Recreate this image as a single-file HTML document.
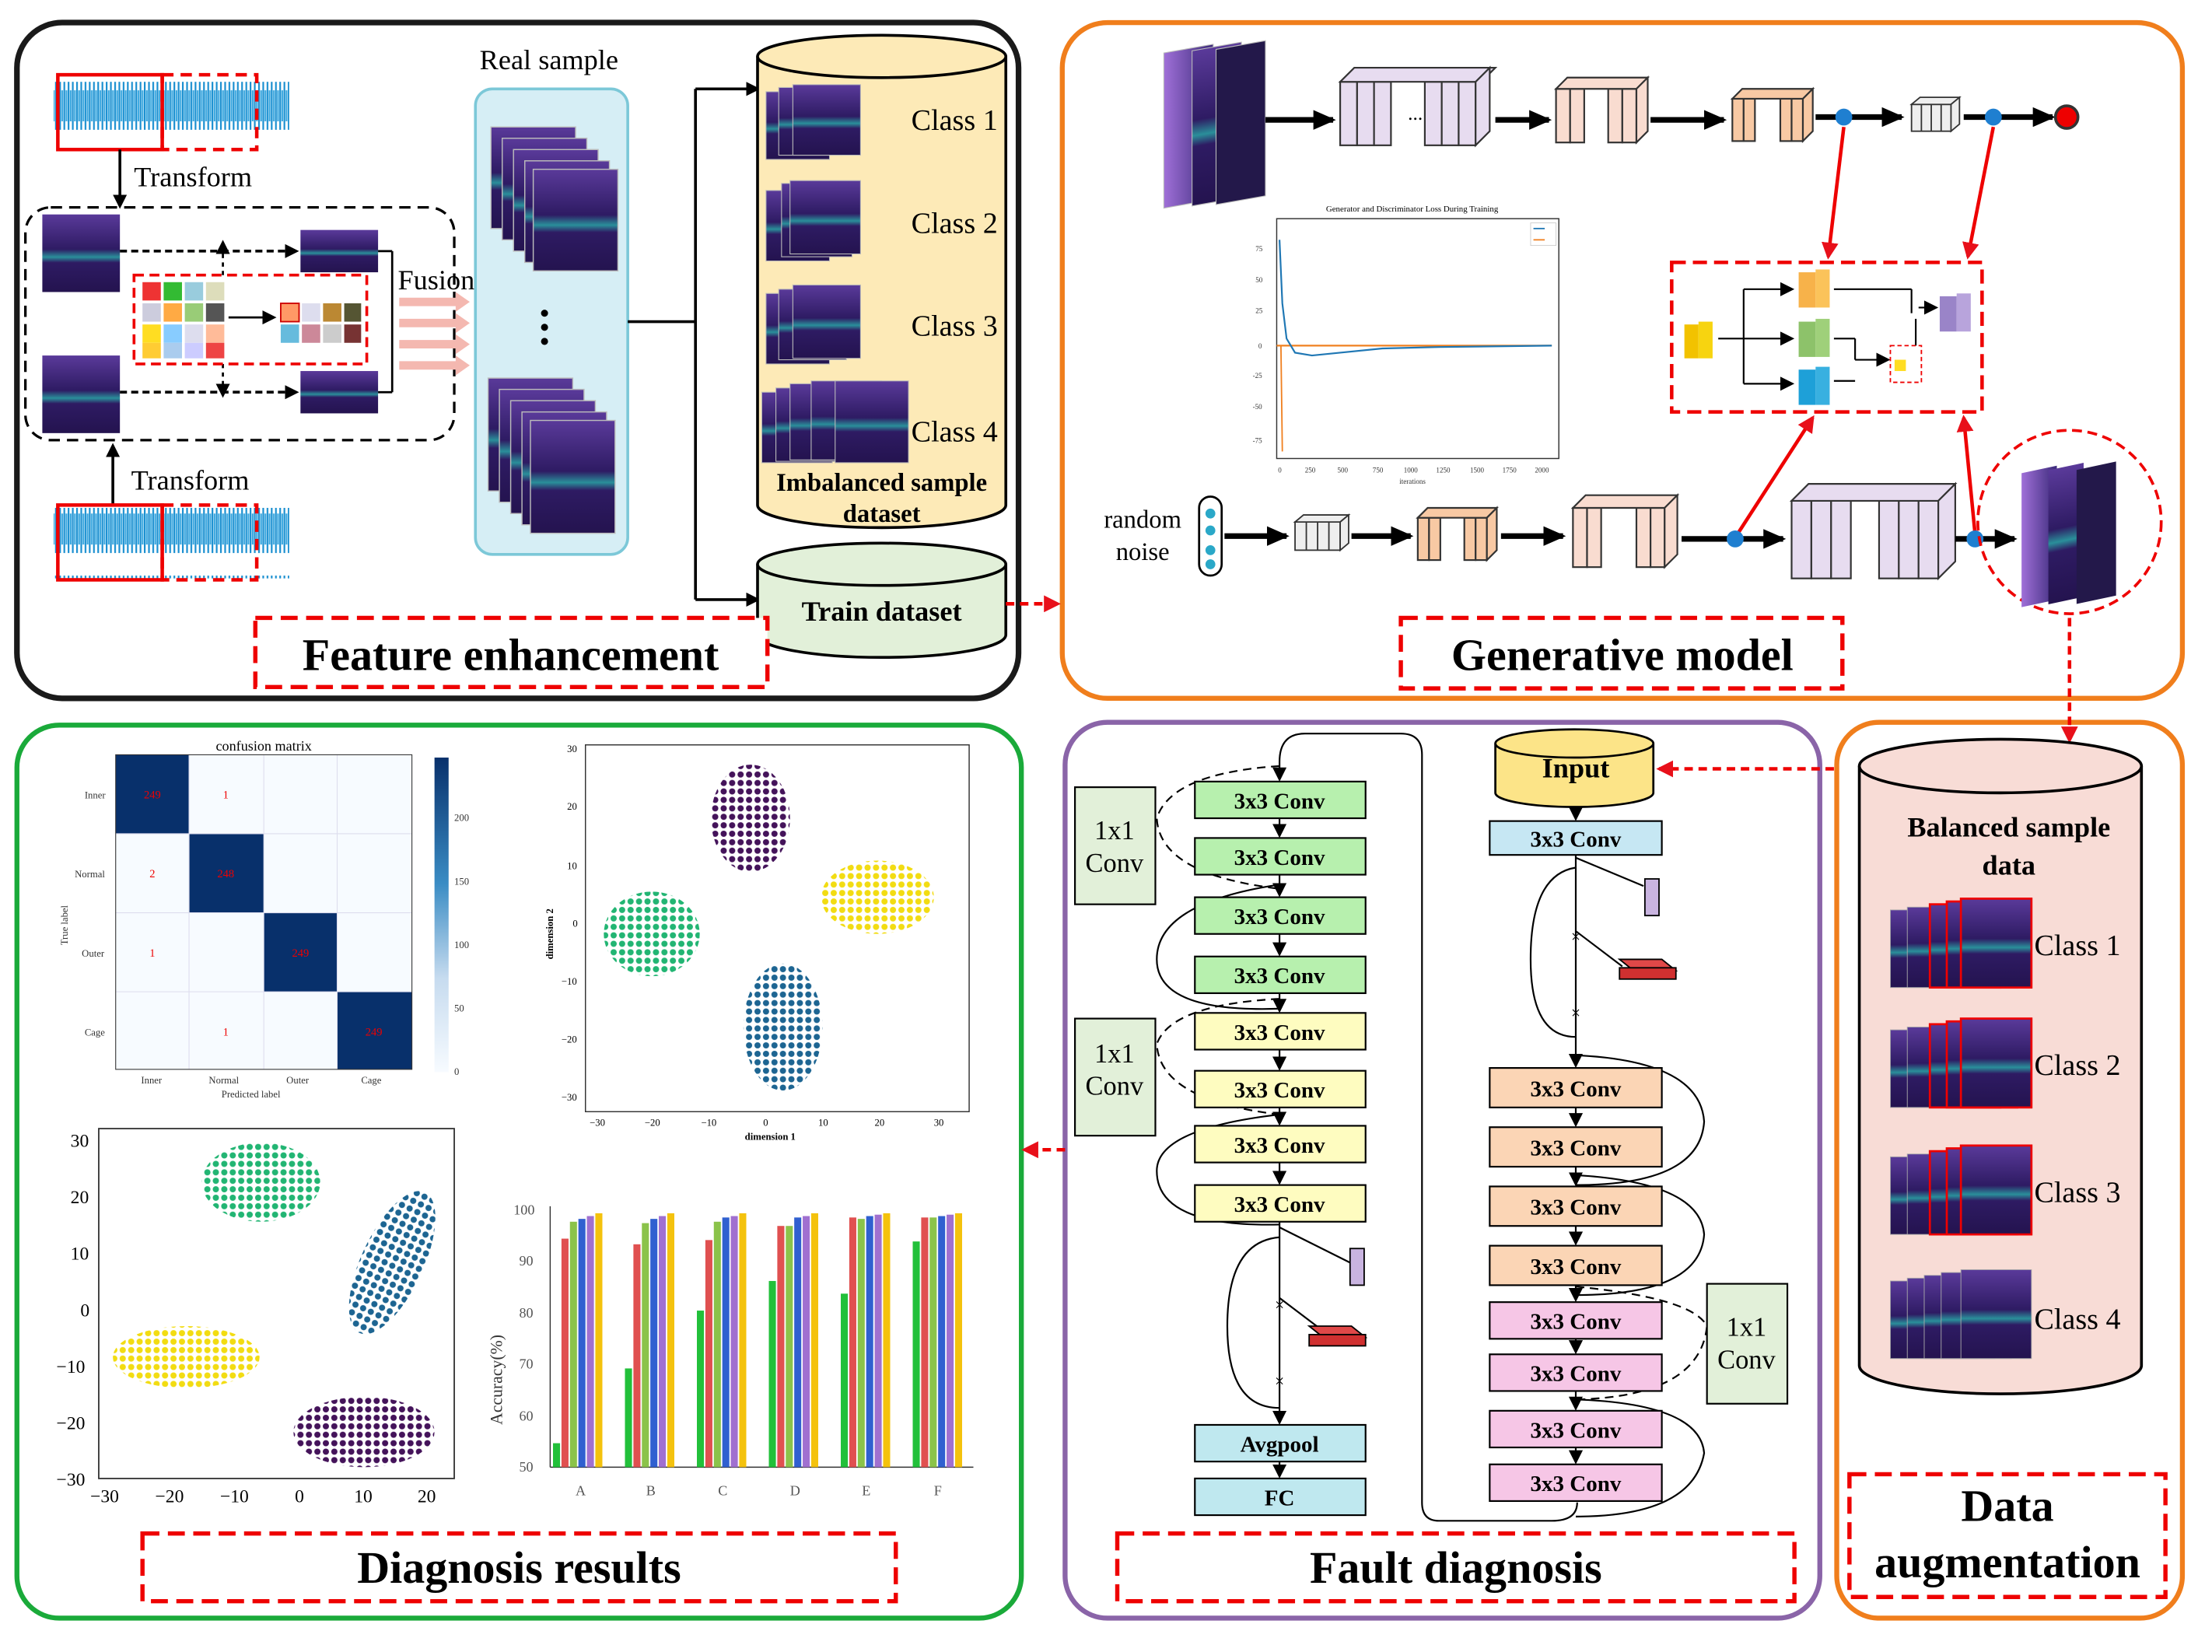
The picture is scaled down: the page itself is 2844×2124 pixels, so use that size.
<!DOCTYPE html>
<html><head><meta charset="utf-8"><style>
html,body{margin:0;padding:0;background:#fff;}
svg{display:block;}
text{font-family:"Liberation Serif",serif;}
.b{font-weight:bold;}
</style></head><body>
<svg width="2844" height="2124" viewBox="0 0 1568 1171" preserveAspectRatio="none" xmlns="http://www.w3.org/2000/svg">
<defs>
<linearGradient id="sp" x1="0" y1="0" x2="0" y2="1">
<stop offset="0" stop-color="#5a3a9a"/><stop offset="0.45" stop-color="#2e1b63"/><stop offset="0.55" stop-color="#2a8f9a"/><stop offset="0.62" stop-color="#2e1b63"/><stop offset="1" stop-color="#24134f"/></linearGradient>
<linearGradient id="sp2" x1="0" y1="0" x2="1" y2="0">
<stop offset="0" stop-color="#a070d8"/><stop offset="1" stop-color="#3b2a7a"/></linearGradient>
<pattern id="wave" width="3" height="50" patternUnits="userSpaceOnUse">
<rect width="3" height="50" fill="#fff"/><rect x="0" y="8" width="1.2" height="34" fill="#1a8fd0"/><rect x="1.5" y="14" width="1.2" height="22" fill="#3aa8e0"/></pattern>
<pattern id="pPur" width="6" height="6" patternUnits="userSpaceOnUse"><circle cx="3" cy="3" r="2.2" fill="#44135a"/></pattern>
<pattern id="pGrn" width="6" height="6" patternUnits="userSpaceOnUse"><circle cx="3" cy="3" r="2.2" fill="#22b573"/></pattern>
<pattern id="pYel" width="6" height="6" patternUnits="userSpaceOnUse"><circle cx="3" cy="3" r="2.2" fill="#f2dc12"/></pattern>
<pattern id="pBlu" width="6" height="6" patternUnits="userSpaceOnUse"><circle cx="3" cy="3" r="2.2" fill="#1d6592"/></pattern>
<marker id="ak" markerWidth="10" markerHeight="10" refX="8" refY="5" orient="auto" markerUnits="userSpaceOnUse"><path d="M0,0 L10,5 L0,10z" fill="#000"/></marker>
<marker id="ar" markerWidth="12" markerHeight="12" refX="10" refY="6" orient="auto" markerUnits="userSpaceOnUse"><path d="M0,0 L12,6 L0,12z" fill="#e8101a"/></marker>
<marker id="ak2" markerWidth="16" markerHeight="14" refX="14" refY="7" orient="auto" markerUnits="userSpaceOnUse"><path d="M0,0 L16,7 L0,14z" fill="#000"/></marker>
</defs>
<rect width="1568" height="1171" fill="#fff"/>

<rect x="12" y="16" width="710" height="479" rx="32" fill="none" stroke="#1a1a1a" stroke-width="4"/>
<rect x="753" y="16" width="794" height="479" rx="32" fill="none" stroke="#f07e1c" stroke-width="3.5"/>
<rect x="12" y="514" width="712" height="633" rx="30" fill="none" stroke="#1aaa3a" stroke-width="3.5"/>
<rect x="755" y="512" width="535" height="635" rx="30" fill="none" stroke="#8a64a8" stroke-width="3.5"/>
<rect x="1302" y="512" width="245" height="635" rx="30" fill="none" stroke="#f07e1c" stroke-width="3.5"/>

<rect x="38" y="55" width="167" height="50" fill="url(#wave)"/>
<rect x="41" y="53" width="74" height="53" fill="none" stroke="#e00" stroke-width="2.5"/>
<rect x="115" y="53" width="67" height="53" fill="none" stroke="#e00" stroke-width="2.5" stroke-dasharray="8,5"/>
<line x1="85" y1="106" x2="85" y2="146" stroke="#000" stroke-width="2" marker-end="url(#ak)"/>
<text x="95" y="132" font-size="20">Transform</text>
<rect x="18" y="147" width="304" height="165" rx="18" fill="none" stroke="#000" stroke-width="1.8" stroke-dasharray="8,5"/>
<rect x="30" y="152" width="55" height="55" fill="url(#sp)"/>
<rect x="30" y="252" width="55" height="55" fill="url(#sp)"/>
<rect x="213" y="163" width="55" height="30" fill="url(#sp)"/>
<rect x="213" y="263" width="55" height="30" fill="url(#sp)"/>
<line x1="85" y1="178" x2="210" y2="178" stroke="#000" stroke-width="2" stroke-dasharray="5,3" marker-end="url(#ak)"/>
<line x1="85" y1="278" x2="210" y2="278" stroke="#000" stroke-width="2" stroke-dasharray="5,3" marker-end="url(#ak)"/>
<line x1="158" y1="195" x2="158" y2="172" stroke="#000" stroke-width="1.5" stroke-dasharray="3,3" marker-end="url(#ak)"/>
<line x1="158" y1="258" x2="158" y2="280" stroke="#000" stroke-width="1.5" stroke-dasharray="3,3" marker-end="url(#ak)"/>
<rect x="95" y="195" width="165" height="63" fill="none" stroke="#e00" stroke-width="2" stroke-dasharray="7,4"/>
<g>
<rect x="101" y="200" width="13" height="13" fill="#e33" /><rect x="116" y="200" width="13" height="13" fill="#3b3"/><rect x="131" y="200" width="13" height="13" fill="#9cd"/><rect x="146" y="200" width="13" height="13" fill="#ddb"/>
<rect x="101" y="215" width="13" height="13" fill="#ccd"/><rect x="116" y="215" width="13" height="13" fill="#fa4"/><rect x="131" y="215" width="13" height="13" fill="#9c7"/><rect x="146" y="215" width="13" height="13" fill="#555"/>
<rect x="101" y="230" width="13" height="13" fill="#fd2"/><rect x="116" y="230" width="13" height="13" fill="#8cf"/><rect x="131" y="230" width="13" height="13" fill="#dde"/><rect x="146" y="230" width="13" height="13" fill="#fb9"/>
<rect x="101" y="243" width="13" height="11" fill="#fc3"/><rect x="116" y="243" width="13" height="11" fill="#ace"/><rect x="131" y="243" width="13" height="11" fill="#ccf"/><rect x="146" y="243" width="13" height="11" fill="#e44"/>
<line x1="162" y1="225" x2="194" y2="225" stroke="#000" stroke-width="1.5" marker-end="url(#ak)"/>
<rect x="199" y="215" width="13" height="13" fill="#f96" stroke="#c00"/><rect x="214" y="215" width="13" height="13" fill="#dde"/><rect x="229" y="215" width="13" height="13" fill="#b83"/><rect x="244" y="215" width="12" height="13" fill="#553"/>
<rect x="199" y="230" width="13" height="13" fill="#6bd"/><rect x="214" y="230" width="13" height="13" fill="#c89"/><rect x="229" y="230" width="13" height="13" fill="#ccc"/><rect x="244" y="230" width="12" height="13" fill="#733"/>
</g>
<line x1="268" y1="178" x2="278" y2="178" stroke="#000" stroke-width="1.5"/><line x1="268" y1="278" x2="278" y2="278" stroke="#000" stroke-width="1.5"/><line x1="278" y1="178" x2="278" y2="278" stroke="#000" stroke-width="1.5"/>
<text x="282" y="205" font-size="20">Fusion</text>
<g fill="#f4b8b0"><path d="M283,211h40v-4l10,7l-10,7v-4h-40z"/><path d="M283,226h40v-4l10,7l-10,7v-4h-40z"/><path d="M283,241h40v-4l10,7l-10,7v-4h-40z"/><path d="M283,256h40v-4l10,7l-10,7v-4h-40z"/></g>
<line x1="80" y1="358" x2="80" y2="316" stroke="#000" stroke-width="2" marker-end="url(#ak)"/>
<text x="93" y="347" font-size="20">Transform</text>
<rect x="38" y="360" width="167" height="50" fill="url(#wave)"/>
<rect x="41" y="358" width="74" height="53" fill="none" stroke="#e00" stroke-width="2.5"/>
<rect x="115" y="358" width="67" height="53" fill="none" stroke="#e00" stroke-width="2.5" stroke-dasharray="8,5"/>
<text x="340" y="49" font-size="20">Real sample</text>
<rect x="337" y="63" width="108" height="330" rx="12" fill="#d6eef5" stroke="#7cc8d8" stroke-width="2"/>
<g stroke="#bbb" stroke-width="0.8">
<rect x="348" y="90" width="60" height="72" fill="url(#sp)"/><rect x="356" y="98" width="60" height="72" fill="url(#sp)"/><rect x="364" y="106" width="60" height="72" fill="url(#sp)"/><rect x="372" y="114" width="60" height="72" fill="url(#sp)"/><rect x="378" y="120" width="60" height="72" fill="url(#sp)"/>
<rect x="346" y="268" width="60" height="80" fill="url(#sp)"/><rect x="354" y="276" width="60" height="80" fill="url(#sp)"/><rect x="362" y="284" width="60" height="80" fill="url(#sp)"/><rect x="370" y="292" width="60" height="80" fill="url(#sp)"/><rect x="376" y="298" width="60" height="80" fill="url(#sp)"/>
</g>
<circle cx="386" cy="222" r="2.5"/><circle cx="386" cy="232" r="2.5"/><circle cx="386" cy="242" r="2.5"/>
<polyline points="445,228 493,228" fill="none" stroke="#000" stroke-width="2"/>
<line x1="493" y1="63" x2="493" y2="425" stroke="#000" stroke-width="2"/>
<line x1="493" y1="63" x2="537" y2="63" stroke="#000" stroke-width="2" marker-end="url(#ak)"/>
<line x1="493" y1="425" x2="537" y2="425" stroke="#000" stroke-width="2" marker-end="url(#ak)"/>
<path d="M537,40 L537,358 A88,16 0 0 0 713,358 L713,40" fill="#fdeab7" stroke="#000" stroke-width="2"/>
<ellipse cx="625" cy="40" rx="88" ry="15" fill="#fdeab7" stroke="#000" stroke-width="2"/>
<g stroke="#bbb" stroke-width="0.6">
<rect x="543" y="65" width="45" height="48" fill="url(#sp)"/><rect x="552" y="62" width="45" height="48" fill="url(#sp)"/><rect x="562" y="60" width="48" height="50" fill="url(#sp)"/>
<rect x="543" y="135" width="45" height="50" fill="url(#sp)"/><rect x="554" y="130" width="50" height="52" fill="url(#sp)"/><rect x="560" y="128" width="50" height="52" fill="url(#sp)"/>
<rect x="543" y="208" width="45" height="50" fill="url(#sp)"/><rect x="552" y="205" width="48" height="50" fill="url(#sp)"/><rect x="562" y="202" width="48" height="52" fill="url(#sp)"/>
<rect x="540" y="278" width="50" height="50" fill="url(#sp)"/><rect x="550" y="275" width="50" height="52" fill="url(#sp)"/><rect x="560" y="272" width="50" height="54" fill="url(#sp)"/><rect x="575" y="270" width="50" height="56" fill="url(#sp)"/><rect x="592" y="270" width="52" height="58" fill="url(#sp)"/>
</g>
<text x="646" y="92" font-size="21">Class 1</text>
<text x="646" y="165" font-size="21">Class 2</text>
<text x="646" y="238" font-size="21">Class 3</text>
<text x="646" y="313" font-size="21">Class 4</text>
<text x="625" y="348" font-size="18" class="b" text-anchor="middle">Imbalanced sample</text>
<text x="625" y="370" font-size="18" class="b" text-anchor="middle">dataset</text>
<path d="M537,400 L537,450 A88,16 0 0 0 713,450 L713,400" fill="#e2f0d9" stroke="#000" stroke-width="2"/>
<ellipse cx="625" cy="400" rx="88" ry="15" fill="#e2f0d9" stroke="#000" stroke-width="2"/>
<text x="625" y="440" font-size="20" class="b" text-anchor="middle">Train dataset</text>
<line x1="713" y1="428" x2="750" y2="428" stroke="#e00" stroke-width="2.5" stroke-dasharray="6,4" marker-end="url(#ar)"/>
<rect x="181" y="438" width="363" height="49" fill="#fff" stroke="#e00" stroke-width="3" stroke-dasharray="12,6"/>
<text x="362" y="475" font-size="32" class="b" text-anchor="middle">Feature enhancement</text>

<g stroke="#bbb" stroke-width="0.6">
<rect x="825" y="38" width="35" height="110" fill="url(#sp2)" transform="skewY(-10) translate(0,145)"/>
<rect x="845" y="35" width="35" height="110" fill="url(#sp)" transform="skewY(-10) translate(0,150)"/>
<rect x="862" y="32" width="35" height="110" fill="#23184a" transform="skewY(-10) translate(0,155)"/>
</g>
<line x1="897" y1="85" x2="945" y2="85" stroke="#000" stroke-width="4" marker-end="url(#ak2)"/>
<g stroke="#333" stroke-width="1.2" fill="#e7dcf0">
<rect x="950" y="58" width="12" height="45"/><rect x="962" y="58" width="12" height="45"/><rect x="974" y="58" width="12" height="45"/><rect x="1010" y="58" width="12" height="45"/><rect x="1022" y="58" width="12" height="45"/><rect x="1034" y="58" width="12" height="45"/>
<path d="M950,58 l10,-10 h100 l-10,10z"/><path d="M1046,58 l10,-10 v45 l-10,10z"/>
</g>
<text x="998" y="85" font-size="14">...</text>
<line x1="1060" y1="85" x2="1098" y2="85" stroke="#000" stroke-width="4" marker-end="url(#ak2)"/>
<g stroke="#333" stroke-width="1.2" fill="#f9dcd0">
<rect x="1103" y="63" width="10" height="38"/><rect x="1113" y="63" width="10" height="38"/><rect x="1140" y="63" width="10" height="38"/><rect x="1150" y="63" width="10" height="38"/>
<path d="M1103,63 l8,-8 h57 l-8,8z"/><path d="M1160,63 l8,-8 v38 l-8,8z"/>
</g>
<line x1="1170" y1="85" x2="1222" y2="85" stroke="#000" stroke-width="4" marker-end="url(#ak2)"/>
<g stroke="#333" stroke-width="1.2" fill="#f8c9a4">
<rect x="1228" y="70" width="8" height="30"/><rect x="1236" y="70" width="8" height="30"/><rect x="1262" y="70" width="8" height="30"/><rect x="1270" y="70" width="8" height="30"/>
<path d="M1228,70 l7,-7 h50 l-7,7z"/><path d="M1278,70 l7,-7 v30 l-7,7z"/>
</g>
<line x1="1287" y1="83" x2="1348" y2="83" stroke="#000" stroke-width="4" marker-end="url(#ak2)"/>
<g stroke="#333" stroke-width="1" fill="#eee">
<rect x="1355" y="74" width="28" height="19"/><path d="M1355,74 l6,-5 h28 l-6,5z"/><path d="M1383,74 l6,-5 v19 l-6,5z"/>
<line x1="1362" y1="74" x2="1362" y2="93"/><line x1="1369" y1="74" x2="1369" y2="93"/><line x1="1376" y1="74" x2="1376" y2="93"/>
</g>
<line x1="1392" y1="83" x2="1455" y2="83" stroke="#000" stroke-width="4" marker-end="url(#ak2)"/>
<circle cx="1307" cy="83" r="6" fill="#1f7fd0"/><circle cx="1413" cy="83" r="6" fill="#1f7fd0"/>
<circle cx="1465" cy="83" r="8" fill="#e00" stroke="#333" stroke-width="2"/>
<rect x="897" y="155" width="208" height="170" fill="#fff"/>
<text x="1001" y="150" font-size="6" text-anchor="middle" font-family="Liberation Sans">Generator and Discriminator Loss During Training</text>
<rect x="905" y="155" width="200" height="170" fill="none" stroke="#333" stroke-width="0.8"/>
<line x1="905" y1="245" x2="1100" y2="245" stroke="#f08020" stroke-width="1.2"/>
<path d="M907,170 L909,215 L912,240 L918,250 L930,252 L950,250 L980,247 L1020,246 L1100,245" fill="none" stroke="#1f77b4" stroke-width="1.2"/>
<line x1="908" y1="245" x2="909" y2="320" stroke="#f08020" stroke-width="1"/>
<g font-size="5" font-family="Liberation Sans" fill="#333"><text x="890" y="178">75</text><text x="890" y="200">50</text><text x="890" y="222">25</text><text x="892" y="247">0</text><text x="888" y="268">-25</text><text x="888" y="290">-50</text><text x="888" y="314">-75</text>
<text x="906" y="335">0</text><text x="925" y="335">250</text><text x="948" y="335">500</text><text x="973" y="335">750</text><text x="995" y="335">1000</text><text x="1018" y="335">1250</text><text x="1042" y="335">1500</text><text x="1065" y="335">1750</text><text x="1088" y="335">2000</text><text x="992" y="343">iterations</text></g>
<rect x="1085" y="158" width="18" height="16" fill="#fff" stroke="#ccc" stroke-width="0.5"/><line x1="1087" y1="162" x2="1095" y2="162" stroke="#1f77b4"/><line x1="1087" y1="170" x2="1095" y2="170" stroke="#f08020"/>
<rect x="1185" y="186" width="220" height="106" fill="none" stroke="#e00" stroke-width="2.5" stroke-dasharray="10,5"/>
<g stroke="#000" stroke-width="1.2" fill="none">
<line x1="1218" y1="240" x2="1236" y2="240"/><line x1="1236" y1="205" x2="1236" y2="272"/>
<line x1="1236" y1="205" x2="1270" y2="205" marker-end="url(#ak)"/><line x1="1236" y1="240" x2="1270" y2="240" marker-end="url(#ak)"/><line x1="1236" y1="272" x2="1270" y2="272" marker-end="url(#ak)"/>
<line x1="1300" y1="205" x2="1355" y2="205"/><line x1="1355" y1="205" x2="1355" y2="222"/><line x1="1360" y1="218" x2="1372" y2="218" marker-end="url(#ak)"/>
<line x1="1300" y1="240" x2="1315" y2="240"/><line x1="1315" y1="240" x2="1315" y2="255"/><line x1="1300" y1="270" x2="1315" y2="270"/><line x1="1315" y1="255" x2="1338" y2="255" marker-end="url(#ak)"/>
<line x1="1358" y1="255" x2="1358" y2="226"/>
</g>
<rect x="1194" y="230" width="10" height="24" fill="#f2c200"/><rect x="1204" y="228" width="10" height="26" fill="#f7d410"/>
<rect x="1275" y="193" width="12" height="25" fill="#f7b24a"/><rect x="1287" y="191" width="10" height="27" fill="#fbc35a"/>
<rect x="1275" y="228" width="12" height="25" fill="#8dc26a"/><rect x="1287" y="226" width="10" height="27" fill="#9fd07a"/>
<rect x="1275" y="262" width="12" height="25" fill="#1ea0d8"/><rect x="1287" y="260" width="10" height="27" fill="#38b0e0"/>
<rect x="1340" y="245" width="22" height="26" fill="#fff" stroke="#e00" stroke-dasharray="3,2"/><rect x="1343" y="255" width="8" height="8" fill="#fd2"/>
<rect x="1375" y="210" width="12" height="25" fill="#9a84c8"/><rect x="1387" y="208" width="10" height="27" fill="#b8a4dc"/>
<line x1="1307" y1="90" x2="1296" y2="182" stroke="#e00" stroke-width="2.5" marker-end="url(#ar)"/>
<line x1="1413" y1="90" x2="1395" y2="182" stroke="#e00" stroke-width="2.5" marker-end="url(#ar)"/>
<line x1="1232" y1="378" x2="1285" y2="296" stroke="#e00" stroke-width="2.5" marker-end="url(#ar)"/>
<line x1="1400" y1="378" x2="1392" y2="296" stroke="#e00" stroke-width="2.5" marker-end="url(#ar)"/>
<text x="810" y="374" font-size="18" text-anchor="middle">random</text>
<text x="810" y="397" font-size="18" text-anchor="middle">noise</text>
<rect x="850" y="352" width="16" height="56" rx="8" fill="#fff" stroke="#000" stroke-width="1.5"/>
<circle cx="858" cy="364" r="3.5" fill="#2aa8c8"/><circle cx="858" cy="376" r="3.5" fill="#2aa8c8"/><circle cx="858" cy="390" r="3.5" fill="#2aa8c8"/><circle cx="858" cy="400" r="3.5" fill="#2aa8c8"/>
<line x1="868" y1="380" x2="912" y2="380" stroke="#000" stroke-width="4" marker-end="url(#ak2)"/>
<g stroke="#333" stroke-width="1" fill="#eee"><rect x="918" y="370" width="32" height="20"/><path d="M918,370 l6,-5 h32 l-6,5z"/><path d="M950,370 l6,-5 v20 l-6,5z"/><line x1="926" y1="370" x2="926" y2="390"/><line x1="934" y1="370" x2="934" y2="390"/><line x1="942" y1="370" x2="942" y2="390"/></g>
<line x1="958" y1="380" x2="1000" y2="380" stroke="#000" stroke-width="4" marker-end="url(#ak2)"/>
<g stroke="#333" stroke-width="1.2" fill="#f8c9a4"><rect x="1005" y="367" width="8" height="30"/><rect x="1013" y="367" width="8" height="30"/><rect x="1038" y="367" width="8" height="30"/><rect x="1046" y="367" width="8" height="30"/><path d="M1005,367 l7,-7 h49 l-7,7z"/><path d="M1054,367 l7,-7 v30 l-7,7z"/></g>
<line x1="1064" y1="380" x2="1108" y2="380" stroke="#000" stroke-width="4" marker-end="url(#ak2)"/>
<g stroke="#333" stroke-width="1.2" fill="#f9dcd0"><rect x="1115" y="360" width="10" height="42"/><rect x="1125" y="360" width="10" height="42"/><rect x="1160" y="360" width="10" height="42"/><rect x="1170" y="360" width="10" height="42"/><path d="M1115,360 l9,-9 h65 l-9,9z"/><path d="M1180,360 l9,-9 v42 l-9,9z"/></g>
<line x1="1192" y1="382" x2="1264" y2="382" stroke="#000" stroke-width="4" marker-end="url(#ak2)"/>
<circle cx="1230" cy="382" r="6" fill="#1f7fd0"/>
<g stroke="#333" stroke-width="1.2" fill="#e7dcf0"><rect x="1270" y="355" width="14" height="55"/><rect x="1284" y="355" width="14" height="55"/><rect x="1298" y="355" width="14" height="55"/><rect x="1332" y="355" width="14" height="55"/><rect x="1346" y="355" width="14" height="55"/><rect x="1360" y="355" width="14" height="55"/><path d="M1270,355 l12,-12 h104 l-12,12z"/><path d="M1374,355 l12,-12 v55 l-12,12z"/></g>
<line x1="1386" y1="382" x2="1428" y2="382" stroke="#000" stroke-width="4" marker-end="url(#ak2)"/>
<circle cx="1400" cy="382" r="6" fill="#1f7fd0"/>
<circle cx="1467" cy="370" r="65" fill="none" stroke="#e00" stroke-width="2" stroke-dasharray="7,4"/>
<g><rect x="1433" y="335" width="25" height="95" fill="url(#sp2)" transform="skewY(-12) translate(0,305)"/><rect x="1452" y="332" width="25" height="95" fill="url(#sp)" transform="skewY(-12) translate(0,310)"/><rect x="1472" y="330" width="28" height="95" fill="#23184a" transform="skewY(-12) translate(0,316)"/></g>
<line x1="1467" y1="438" x2="1467" y2="525" stroke="#e00" stroke-width="2.5" stroke-dasharray="6,4" marker-end="url(#ar)"/>
<rect x="993" y="438" width="313" height="50" fill="#fff" stroke="#e00" stroke-width="3" stroke-dasharray="12,6"/>
<text x="1150" y="475" font-size="32" class="b" text-anchor="middle">Generative model</text>

<text x="187" y="532" font-size="10" text-anchor="middle" font-family="Liberation Sans">confusion matrix</text>
<rect x="82" y="535" width="210" height="223" fill="#f7fbff"/>
<rect x="82" y="535" width="52" height="56" fill="#08306b"/><rect x="134" y="591" width="53" height="56" fill="#08306b"/><rect x="187" y="647" width="52" height="56" fill="#08306b"/><rect x="239" y="703" width="53" height="55" fill="#08306b"/>
<g stroke="#dde" stroke-width="0.6"><line x1="134" y1="535" x2="134" y2="758"/><line x1="187" y1="535" x2="187" y2="758"/><line x1="239" y1="535" x2="239" y2="758"/><line x1="82" y1="591" x2="292" y2="591"/><line x1="82" y1="647" x2="292" y2="647"/><line x1="82" y1="703" x2="292" y2="703"/></g>
<rect x="82" y="535" width="210" height="223" fill="none" stroke="#333" stroke-width="0.6"/>
<g font-size="8" fill="#e00" text-anchor="middle" font-family="Liberation Sans"><text x="108" y="566">249</text><text x="160" y="566">1</text><text x="108" y="622">2</text><text x="160" y="622">248</text><text x="108" y="678">1</text><text x="213" y="678">249</text><text x="160" y="734">1</text><text x="265" y="734">249</text></g>
<g font-size="7" font-family="Liberation Sans" fill="#333"><text x="60" y="566">Inner</text><text x="53" y="622">Normal</text><text x="58" y="678">Outer</text><text x="60" y="734">Cage</text>
<text x="100" y="768">Inner</text><text x="148" y="768">Normal</text><text x="203" y="768">Outer</text><text x="256" y="768">Cage</text>
<text x="157" y="778">Predicted label</text><text x="48" y="670" transform="rotate(-90 48 670)">True label</text>
<text x="322" y="582">200</text><text x="322" y="627">150</text><text x="322" y="672">100</text><text x="322" y="717">50</text><text x="322" y="762">0</text></g>
<defs><linearGradient id="cb" x1="0" y1="0" x2="0" y2="1"><stop offset="0" stop-color="#08306b"/><stop offset="0.4" stop-color="#3a8cc4"/><stop offset="0.7" stop-color="#c6dbef"/><stop offset="1" stop-color="#f7fbff"/></linearGradient></defs>
<rect x="308" y="537" width="10" height="223" fill="url(#cb)"/>
<rect x="415" y="528" width="272" height="260" fill="none" stroke="#333" stroke-width="0.8"/>
<ellipse cx="532" cy="580" rx="28" ry="38" fill="url(#pPur)"/>
<ellipse cx="622" cy="636" rx="40" ry="26" fill="url(#pYel)"/>
<ellipse cx="462" cy="662" rx="34" ry="30" fill="url(#pGrn)"/>
<ellipse cx="555" cy="728" rx="28" ry="45" fill="url(#pBlu)"/>
<g font-size="7" font-family="Liberation Serif"><text x="402" y="533">30</text><text x="402" y="574">20</text><text x="402" y="616">10</text><text x="406" y="657">0</text><text x="398" y="698">−10</text><text x="398" y="739">−20</text><text x="398" y="780">−30</text>
<text x="418" y="798">−30</text><text x="457" y="798">−20</text><text x="497" y="798">−10</text><text x="541" y="798">0</text><text x="580" y="798">10</text><text x="620" y="798">20</text><text x="662" y="798">30</text>
<text x="528" y="808" font-weight="bold">dimension 1</text><text x="392" y="680" transform="rotate(-90 392 680)" font-weight="bold">dimension 2</text></g>
<rect x="70" y="800" width="252" height="248" fill="none" stroke="#333" stroke-width="1"/>
<ellipse cx="185" cy="838" rx="42" ry="28" fill="url(#pGrn)"/>
<ellipse cx="278" cy="895" rx="22" ry="55" fill="url(#pBlu)" transform="rotate(25 278 895)"/>
<ellipse cx="132" cy="962" rx="52" ry="22" fill="url(#pYel)"/>
<ellipse cx="258" cy="1015" rx="50" ry="25" fill="url(#pPur)"/>
<g font-size="13" font-family="Liberation Sans"><text x="50" y="813">30</text><text x="50" y="853">20</text><text x="50" y="893">10</text><text x="57" y="933">0</text><text x="40" y="973">−10</text><text x="40" y="1013">−20</text><text x="40" y="1053">−30</text>
<text x="64" y="1065">−30</text><text x="110" y="1065">−20</text><text x="156" y="1065">−10</text><text x="209" y="1065">0</text><text x="251" y="1065">10</text><text x="296" y="1065">20</text></g>
<line x1="390" y1="855" x2="390" y2="1040" stroke="#333" stroke-width="0.8"/><line x1="390" y1="1040" x2="690" y2="1040" stroke="#333" stroke-width="0.8"/>
<g font-size="10" fill="#555"><text x="364" y="861">100</text><text x="368" y="897">90</text><text x="368" y="934">80</text><text x="368" y="970">70</text><text x="368" y="1007">60</text><text x="368" y="1043">50</text>
<text x="408" y="1060">A</text><text x="458" y="1060">B</text><text x="509" y="1060">C</text><text x="560" y="1060">D</text><text x="611" y="1060">E</text><text x="662" y="1060">F</text>
<text x="356" y="1010" transform="rotate(-90 356 1010)" font-size="12" fill="#333">Accuracy(%)</text></g>
<g>
<rect x="392" y="1023" width="5" height="17" fill="#22c03a"/><rect x="398" y="878" width="5" height="162" fill="#e05050"/><rect x="404" y="866" width="5" height="174" fill="#8bc34a"/><rect x="410" y="864" width="5" height="176" fill="#3060d0"/><rect x="416" y="862" width="5" height="178" fill="#a070d0"/><rect x="422" y="860" width="5" height="180" fill="#f4c20d"/>
<rect x="443" y="970" width="5" height="70" fill="#22c03a"/><rect x="449" y="882" width="5" height="158" fill="#e05050"/><rect x="455" y="867" width="5" height="173" fill="#8bc34a"/><rect x="461" y="864" width="5" height="176" fill="#3060d0"/><rect x="467" y="862" width="5" height="178" fill="#a070d0"/><rect x="473" y="860" width="5" height="180" fill="#f4c20d"/>
<rect x="494" y="929" width="5" height="111" fill="#22c03a"/><rect x="500" y="879" width="5" height="161" fill="#e05050"/><rect x="506" y="866" width="5" height="174" fill="#8bc34a"/><rect x="512" y="863" width="5" height="177" fill="#3060d0"/><rect x="518" y="862" width="5" height="178" fill="#a070d0"/><rect x="524" y="860" width="5" height="180" fill="#f4c20d"/>
<rect x="545" y="908" width="5" height="132" fill="#22c03a"/><rect x="551" y="869" width="5" height="171" fill="#e05050"/><rect x="557" y="869" width="5" height="171" fill="#8bc34a"/><rect x="563" y="863" width="5" height="177" fill="#3060d0"/><rect x="569" y="862" width="5" height="178" fill="#a070d0"/><rect x="575" y="860" width="5" height="180" fill="#f4c20d"/>
<rect x="596" y="917" width="5" height="123" fill="#22c03a"/><rect x="602" y="863" width="5" height="177" fill="#e05050"/><rect x="608" y="864" width="5" height="176" fill="#8bc34a"/><rect x="614" y="862" width="5" height="178" fill="#3060d0"/><rect x="620" y="861" width="5" height="179" fill="#a070d0"/><rect x="626" y="860" width="5" height="180" fill="#f4c20d"/>
<rect x="647" y="880" width="5" height="160" fill="#22c03a"/><rect x="653" y="863" width="5" height="177" fill="#e05050"/><rect x="659" y="863" width="5" height="177" fill="#8bc34a"/><rect x="665" y="862" width="5" height="178" fill="#3060d0"/><rect x="671" y="861" width="5" height="179" fill="#a070d0"/><rect x="677" y="860" width="5" height="180" fill="#f4c20d"/>
</g>
<line x1="755" y1="815" x2="726" y2="815" stroke="#e00" stroke-width="2.5" stroke-dasharray="6,4" marker-end="url(#ar)"/>
<rect x="101" y="1087" width="534" height="48" fill="#fff" stroke="#e00" stroke-width="3" stroke-dasharray="12,6"/>
<text x="368" y="1122" font-size="32" class="b" text-anchor="middle">Diagnosis results</text>

<g stroke="#000" stroke-width="1.2" fill="none">
<path d="M1118,1065 Q1118,1078 1100,1078 L1020,1078 Q1008,1078 1008,1065 L1008,535 Q1008,520 993,520 L925,520 Q907,520 907,540"/>
<line x1="907" y1="540" x2="907" y2="552" marker-end="url(#ak)"/>
<line x1="907" y1="580" x2="907" y2="592" marker-end="url(#ak)"/>
<line x1="907" y1="620" x2="907" y2="634" marker-end="url(#ak)"/>
<line x1="907" y1="662" x2="907" y2="676" marker-end="url(#ak)"/>
<line x1="907" y1="704" x2="907" y2="716" marker-end="url(#ak)"/>
<line x1="907" y1="744" x2="907" y2="757" marker-end="url(#ak)"/>
<line x1="907" y1="785" x2="907" y2="796" marker-end="url(#ak)"/>
<line x1="907" y1="824" x2="907" y2="838" marker-end="url(#ak)"/>
<line x1="907" y1="866" x2="907" y2="1008" marker-end="url(#ak)"/>
<line x1="907" y1="1036" x2="907" y2="1046" marker-end="url(#ak)"/>
<path d="M907,627 Q820,640 820,680 Q820,718 907,715" />
<path d="M907,790 Q820,800 820,830 Q820,870 907,868"/>
<path d="M907,543 Q830,548 820,580 Q822,620 907,630" stroke-dasharray="6,4"/>
<path d="M907,708 Q830,712 820,740 Q822,780 907,790" stroke-dasharray="6,4"/>
<path d="M907,870 L957,895"/><path d="M907,920 L940,945"/>
<path d="M907,877 Q870,880 870,940 Q870,998 907,998"/>
</g>
<rect x="957" y="885" width="10" height="26" fill="#c9b4e0" stroke="#000"/>
<path d="M928,940 l30,0 l10,8 l-30,0z" fill="#e04848" stroke="#000"/><rect x="928" y="946" width="40" height="8" fill="#d03030" stroke="#000"/>
<text x="907" y="929" font-size="12" text-anchor="middle">×</text><text x="907" y="983" font-size="12" text-anchor="middle">×</text>
<g stroke="#000" stroke-width="1.2">
<rect x="847" y="554" width="121" height="26" fill="#b7f0ae"/><rect x="847" y="594" width="121" height="26" fill="#b7f0ae"/><rect x="847" y="636" width="121" height="26" fill="#b7f0ae"/><rect x="847" y="678" width="121" height="26" fill="#b7f0ae"/>
<rect x="847" y="718" width="121" height="26" fill="#fefcc0"/><rect x="847" y="759" width="121" height="26" fill="#fefcc0"/><rect x="847" y="798" width="121" height="26" fill="#fefcc0"/><rect x="847" y="840" width="121" height="26" fill="#fefcc0"/>
<rect x="847" y="1010" width="121" height="26" fill="#bfe8ef"/><rect x="847" y="1048" width="121" height="26" fill="#bfe8ef"/>
<rect x="762" y="558" width="57" height="83" fill="#e2f0d9"/><rect x="762" y="722" width="57" height="83" fill="#e2f0d9"/>
</g>
<g font-size="16" class="b" text-anchor="middle">
<text x="907" y="573">3x3 Conv</text><text x="907" y="613">3x3 Conv</text><text x="907" y="655">3x3 Conv</text><text x="907" y="697">3x3 Conv</text><text x="907" y="737">3x3 Conv</text><text x="907" y="778">3x3 Conv</text><text x="907" y="817">3x3 Conv</text><text x="907" y="859">3x3 Conv</text>
<text x="907" y="1029">Avgpool</text><text x="907" y="1067">FC</text>
</g>
<g font-size="19" text-anchor="middle"><text x="790" y="595">1x1</text><text x="790" y="618">Conv</text><text x="790" y="753">1x1</text><text x="790" y="776">Conv</text></g>
<path d="M1060,527 L1060,562 A56,10 0 0 0 1172,562 L1172,527" fill="#fce488" stroke="#000" stroke-width="1.5"/>
<ellipse cx="1116" cy="527" rx="56" ry="10" fill="#fce488" stroke="#000" stroke-width="1.5"/>
<text x="1117" y="551" font-size="20" class="b" text-anchor="middle">Input</text>
<line x1="1300" y1="545" x2="1176" y2="545" stroke="#e00" stroke-width="2.5" stroke-dasharray="6,4" marker-end="url(#ar)"/>
<g stroke="#000" stroke-width="1.2" fill="none">
<line x1="1117" y1="572" x2="1117" y2="580" marker-end="url(#ak)"/>
<line x1="1117" y1="606" x2="1117" y2="755" marker-end="url(#ak)"/>
<path d="M1117,608 L1165,628"/><path d="M1117,660 L1150,685"/>
<path d="M1117,615 Q1085,620 1085,680 Q1085,735 1117,735"/>
<line x1="1117" y1="785" x2="1117" y2="797" marker-end="url(#ak)"/>
<line x1="1117" y1="827" x2="1117" y2="839" marker-end="url(#ak)"/>
<line x1="1117" y1="869" x2="1117" y2="881" marker-end="url(#ak)"/>
<line x1="1117" y1="911" x2="1117" y2="921" marker-end="url(#ak)"/>
<line x1="1117" y1="949" x2="1117" y2="958" marker-end="url(#ak)"/>
<line x1="1117" y1="986" x2="1117" y2="998" marker-end="url(#ak)"/>
<line x1="1117" y1="1026" x2="1117" y2="1036" marker-end="url(#ak)"/>
<path d="M1117,748 Q1205,752 1208,795 Q1205,840 1117,840"/>
<path d="M1117,833 Q1205,838 1208,875 Q1205,918 1117,918"/>
<path d="M1117,912 Q1200,920 1210,940 Q1205,990 1117,992" stroke-dasharray="6,4"/>
<path d="M1117,992 Q1205,995 1208,1030 Q1200,1075 1117,1075"/>
</g>
<rect x="1166" y="623" width="10" height="26" fill="#c9b4e0" stroke="#000"/>
<path d="M1148,680 l30,0 l10,8 l-30,0z" fill="#e04848" stroke="#000"/><rect x="1148" y="686" width="40" height="8" fill="#d03030" stroke="#000"/>
<text x="1117" y="668" font-size="12" text-anchor="middle">×</text><text x="1117" y="722" font-size="12" text-anchor="middle">×</text>
<g stroke="#000" stroke-width="1.2">
<rect x="1056" y="582" width="122" height="24" fill="#c6e7f3"/>
<rect x="1056" y="757" width="122" height="28" fill="#fbd5b5"/><rect x="1056" y="799" width="122" height="28" fill="#fbd5b5"/><rect x="1056" y="841" width="122" height="28" fill="#fbd5b5"/><rect x="1056" y="883" width="122" height="28" fill="#fbd5b5"/>
<rect x="1056" y="923" width="122" height="26" fill="#f6c6e6"/><rect x="1056" y="960" width="122" height="26" fill="#f6c6e6"/><rect x="1056" y="1000" width="122" height="26" fill="#f6c6e6"/><rect x="1056" y="1038" width="122" height="26" fill="#f6c6e6"/>
<rect x="1210" y="910" width="57" height="85" fill="#e2f0d9"/>
</g>
<g font-size="16" class="b" text-anchor="middle">
<text x="1117" y="600">3x3 Conv</text><text x="1117" y="777">3x3 Conv</text><text x="1117" y="819">3x3 Conv</text><text x="1117" y="861">3x3 Conv</text><text x="1117" y="903">3x3 Conv</text>
<text x="1117" y="942">3x3 Conv</text><text x="1117" y="979">3x3 Conv</text><text x="1117" y="1019">3x3 Conv</text><text x="1117" y="1057">3x3 Conv</text>
</g>
<g font-size="19" text-anchor="middle"><text x="1238" y="947">1x1</text><text x="1238" y="970">Conv</text></g>
<rect x="792" y="1087" width="480" height="48" fill="#fff" stroke="#e00" stroke-width="3" stroke-dasharray="12,6"/>
<text x="1032" y="1122" font-size="32" class="b" text-anchor="middle">Fault diagnosis</text>

<path d="M1318,543 L1318,968 A100,20 0 0 0 1518,968 L1518,543" fill="#f8dcd6" stroke="#000" stroke-width="2"/>
<ellipse cx="1418" cy="543" rx="100" ry="19" fill="#f8dcd6" stroke="#000" stroke-width="2"/>
<text x="1424" y="593" font-size="20" class="b" text-anchor="middle">Balanced sample</text>
<text x="1424" y="620" font-size="20" class="b" text-anchor="middle">data</text>
<g stroke="#aaa" stroke-width="0.5">
<g><rect x="1340" y="645" width="50" height="55" fill="url(#sp)"/><rect x="1352" y="643" width="50" height="57" fill="url(#sp)"/><rect x="1368" y="641" width="50" height="59" fill="url(#sp)" stroke="#e00" stroke-width="1.5"/><rect x="1380" y="639" width="50" height="61" fill="url(#sp)" stroke="#e00" stroke-width="1.5"/><rect x="1390" y="637" width="50" height="63" fill="url(#sp)" stroke="#e00" stroke-width="1.5"/></g>
<g><rect x="1340" y="730" width="50" height="55" fill="url(#sp)"/><rect x="1352" y="728" width="50" height="57" fill="url(#sp)"/><rect x="1368" y="726" width="50" height="59" fill="url(#sp)" stroke="#e00" stroke-width="1.5"/><rect x="1380" y="724" width="50" height="61" fill="url(#sp)" stroke="#e00" stroke-width="1.5"/><rect x="1390" y="722" width="50" height="63" fill="url(#sp)" stroke="#e00" stroke-width="1.5"/></g>
<g><rect x="1340" y="820" width="50" height="55" fill="url(#sp)"/><rect x="1352" y="818" width="50" height="57" fill="url(#sp)"/><rect x="1368" y="816" width="50" height="59" fill="url(#sp)" stroke="#e00" stroke-width="1.5"/><rect x="1380" y="814" width="50" height="61" fill="url(#sp)" stroke="#e00" stroke-width="1.5"/><rect x="1390" y="812" width="50" height="63" fill="url(#sp)" stroke="#e00" stroke-width="1.5"/></g>
<g><rect x="1340" y="908" width="50" height="55" fill="url(#sp)"/><rect x="1352" y="906" width="50" height="57" fill="url(#sp)"/><rect x="1364" y="904" width="50" height="59" fill="url(#sp)"/><rect x="1376" y="902" width="50" height="61" fill="url(#sp)"/><rect x="1390" y="900" width="50" height="63" fill="url(#sp)"/></g>
</g>
<text x="1442" y="677" font-size="21">Class 1</text>
<text x="1442" y="762" font-size="21">Class 2</text>
<text x="1442" y="852" font-size="21">Class 3</text>
<text x="1442" y="942" font-size="21">Class 4</text>
<rect x="1311" y="1045" width="224" height="87" fill="#fff" stroke="#e00" stroke-width="3" stroke-dasharray="12,6"/>
<text x="1423" y="1078" font-size="32" class="b" text-anchor="middle">Data</text>
<text x="1423" y="1118" font-size="32" class="b" text-anchor="middle">augmentation</text>
</svg>
</body></html>
